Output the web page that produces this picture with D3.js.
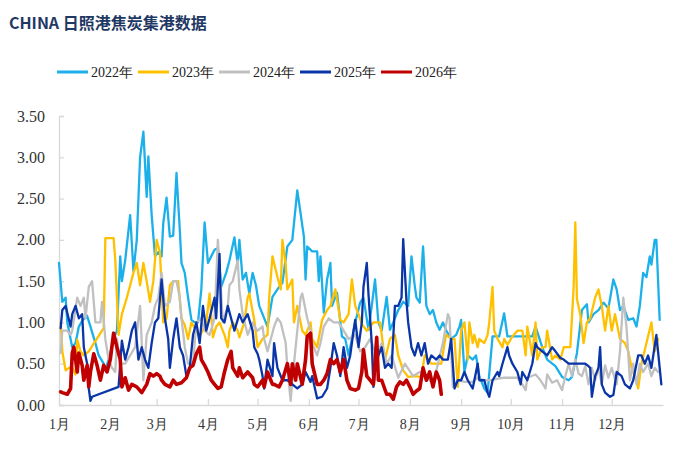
<!DOCTYPE html>
<html><head><meta charset="utf-8">
<script src="https://cdn.jsdelivr.net/npm/d3@7/dist/d3.min.js"></script>
<style>body{margin:0;background:#fff}svg{display:block}</style>
</head><body>
<svg id="c" width="684" height="453"></svg>
<script>
// ---- data (day of year, value) ----
const years = ["2022年","2023年","2024年","2025年","2026年"];
const monthLabels = ["1月","2月","3月","4月","5月","6月","7月","8月","9月","10月","11月","12月"];
const monthStartDays = [0,31,59,90,120,151,181,212,243,273,304,334];
const yTicks = [0,0.5,1,1.5,2,2.5,3,3.5];

const s2022 = [[0,1.72],[2,1.25],[4,1.30],[5,1.0],[8,0.70],[10,0.75],[12,0.95],[14,1.02],[17,1.08],[19,0.95],[22,0.75],[24,0.6],[27,0.5],[28,0.42],[30,0.55],[33,0.8],[35,0.9],[37,1.8],[38,1.5],[40,1.75],[43,2.3],[45,1.62],[47,2.0],[49,3.0],[51,3.31],[53,2.52],[54,3.01],[56,2.3],[58,1.8],[60,1.85],[62,1.8],[63,2.2],[65,2.51],[67,2.04],[69,2.05],[71,2.81],[73,2.12],[74,1.72],[76,1.6],[78,1.3],[80,1.03],[82,1.0],[84,1.0],[86,1.4],[88,2.21],[90,1.72],[92,1.8],[94,1.88],[96,1.9],[98,1.43],[101,1.6],[103,1.75],[106,2.03],[108,1.7],[109,2.0],[111,1.52],[113,1.6],[115,1.35],[117,1.6],[119,1.45],[121,1.2],[123,1.1],[126,0.95],[129,1.31],[132,1.4],[135,1.48],[138,1.92],[141,2.0],[144,2.6],[148,2.04],[149,1.52],[150,1.92],[153,1.86],[156,1.86],[157,1.5],[158,1.8],[160,1.12],[162,1.52],[164,1.72],[165,1.2],[168,1.36],[171,0.83],[173,0.8],[175,0.6],[177,0.8],[179,1.0],[182,1.24],[184,1.3],[187,0.91],[189,1.2],[191,1.52],[193,1.0],[195,0.9],[198,1.31],[200,0.91],[202,1.0],[205,1.15],[208,1.25],[211,1.2],[213,1.8],[215,1.44],[216,1.3],[218,1.24],[220,1.92],[222,1.2],[224,1.1],[226,1.15],[228,1.0],[230,0.91],[232,1.0],[234,0.9],[237,0.8],[240,0.85],[242,0.95],[243,1.03],[245,0.4],[247,0.6],[250,0.55],[252,0.6],[254,0.35],[257,0.2],[259,0.15],[262,0.83],[266,0.83],[269,1.11],[271,0.83],[276,0.83],[282,0.83],[286,0.83],[288,0.95],[292,0.7],[295,0.55],[300,0.47],[304,0.34],[308,0.3],[310,0.34],[313,0.63],[316,1.15],[319,1.22],[320,1.0],[323,1.1],[326,1.15],[329,1.24],[332,1.17],[335,1.52],[337,1.40],[339,1.15],[341,1.2],[344,1.03],[347,1.05],[349,0.95],[351,1.2],[353,1.6],[355,1.55],[357,1.8],[358,1.7],[360,2.0],[361,2.0],[363,1.03]];

const s2023 = [[1,1.0],[2,0.65],[4,0.42],[6,0.45],[8,0.45],[10,0.37],[11,0.79],[13,0.65],[15,0.6],[18,0.65],[27,0.93],[28,2.02],[33,2.02],[34,1.76],[36,0.85],[38,1.1],[41,1.3],[43,1.45],[45,1.6],[47,1.72],[49,1.45],[51,1.72],[53,1.5],[55,1.25],[57,1.5],[59,2.0],[61,1.85],[63,1.0],[65,1.05],[67,1.45],[69,1.5],[72,1.5],[74,1.05],[76,0.97],[78,0.8],[80,1.0],[83,0.9],[85,0.83],[88,0.95],[89,1.0],[91,1.35],[93,0.82],[95,0.95],[97,1.0],[100,0.85],[102,0.7],[103,0.9],[105,1.0],[108,0.9],[109,0.82],[112,1.0],[114,1.3],[115,1.35],[118,1.03],[120,0.7],[123,0.8],[126,0.85],[127,1.3],[129,1.8],[132,1.55],[134,1.4],[135,2.0],[137,1.7],[138,1.4],[141,1.52],[142,1.0],[144,1.2],[147,0.9],[149,0.85],[152,1.0],[153,0.8],[156,0.7],[159,1.03],[162,1.15],[164,1.2],[167,1.4],[170,1.03],[172,1.0],[175,1.1],[177,1.52],[179,1.2],[181,1.1],[183,0.98],[186,0.9],[190,1.0],[194,1.0],[197,0.55],[200,0.8],[203,0.85],[205,0.6],[208,0.42],[211,0.34],[215,0.35],[219,0.34],[221,0.6],[223,0.55],[225,0.5],[228,0.5],[231,0.5],[233,0.75],[234,0.85],[237,0.8],[239,0.8],[241,0.22],[243,0.9],[245,1.0],[247,0.55],[248,1.0],[250,0.75],[251,0.85],[253,0.7],[254,0.8],[257,0.75],[259,0.85],[260,1.0],[262,1.43],[263,0.9],[265,0.8],[268,0.7],[269,0.8],[271,0.73],[274,0.83],[277,0.9],[280,0.9],[282,0.6],[283,0.95],[286,0.6],[288,1.0],[289,0.55],[292,0.7],[294,0.7],[295,0.9],[298,0.55],[300,0.6],[303,0.55],[305,0.7],[307,0.7],[309,0.7],[311,1.43],[312,2.21],[313,1.28],[315,1.1],[317,0.75],[319,1.0],[321,1.05],[324,1.3],[326,1.4],[328,1.2],[330,0.9],[332,1.2],[334,0.9],[336,1.1],[339,0.8],[342,0.75],[344,0.65],[346,0.45],[348,0.35],[350,0.2],[352,0.5],[355,0.75],[358,1.0],[360,0.65],[362,0.8]];

const s2024 = [[1,0.63],[2,0.9],[5,0.9],[7,0.85],[8,0.9],[11,1.3],[13,1.2],[15,1.3],[16,1.05],[18,1.43],[20,1.5],[22,1.0],[25,1.0],[26,1.25],[28,0.8],[30,0.55],[32,0.45],[34,0.4],[35,0.8],[37,0.5],[40,0.5],[43,0.6],[46,0.7],[49,1.2],[51,0.3],[53,0.85],[56,1.0],[58,1.2],[60,1.3],[62,1.6],[64,1.2],[67,1.25],[69,1.5],[71,1.5],[73,1.3],[74,1.05],[76,0.7],[78,0.5],[81,0.5],[83,1.0],[86,1.05],[88,0.9],[91,0.85],[94,1.05],[96,2.0],[97,1.7],[99,1.0],[102,1.2],[103,1.45],[105,1.5],[108,1.75],[109,1.4],[111,1.1],[114,0.85],[117,1.0],[118,0.95],[120,0.9],[123,0.95],[124,0.8],[126,0.65],[128,0.8],[130,0.95],[132,1.05],[134,1.0],[137,0.75],[138,0.45],[140,0.05],[141,0.3],[144,0.9],[146,1.3],[147,1.35],[150,1.05],[152,0.9],[153,0.75],[156,0.6],[158,0.75],[160,0.95],[163,1.05],[166,1.0],[169,1.0],[172,0.9],[175,0.8],[179,0.85],[182,0.65],[185,0.7],[188,0.8],[192,0.6],[195,0.75],[198,0.5],[201,0.6],[205,0.33],[209,0.5],[214,0.35],[218,0.4],[222,0.35],[226,0.25],[229,0.5],[232,0.75],[235,1.1],[236,1.05],[238,0.22],[241,0.3],[245,0.28],[250,0.28],[253,0.33],[257,0.3],[262,0.3],[265,0.32],[269,0.33],[274,0.33],[277,0.33],[280,0.25],[282,0.18],[283,0.33],[288,0.37],[291,0.3],[294,0.2],[295,0.37],[298,0.27],[301,0.3],[304,0.18],[306,0.35],[308,0.5],[310,0.35],[312,0.55],[314,0.38],[316,0.35],[318,0.47],[320,0.25],[322,0.45],[324,0.3],[326,0.45],[328,0.25],[330,0.48],[332,0.33],[334,0.45],[337,0.25],[339,0.65],[341,1.3],[343,0.93],[345,0.3],[347,0.5],[349,0.25],[351,0.5],[353,0.4],[356,0.5],[358,0.35],[360,0.45],[362,0.4]];

const s2025 = [[1,0.93],[2,1.15],[4,1.2],[7,0.95],[8,1.1],[10,1.2],[12,1.05],[14,1.1],[15,0.7],[17,0.5],[18,0.2],[19,0.05],[20,0.1],[36,0.22],[38,0.78],[40,0.55],[42,0.7],[44,0.9],[46,1.0],[48,0.55],[50,0.7],[52,0.55],[54,0.45],[56,0.75],[58,1.0],[60,1.05],[62,1.52],[64,1.05],[66,0.8],[67,0.45],[69,0.8],[71,1.05],[73,0.7],[75,0.6],[77,0.35],[79,0.45],[81,0.85],[83,1.0],[85,0.75],[87,1.2],[89,0.9],[91,1.05],[94,1.3],[95,1.05],[97,1.83],[98,1.05],[100,1.0],[102,1.2],[104,1.05],[106,0.9],[109,1.1],[111,1.0],[114,1.1],[117,0.9],[118,0.7],[120,0.62],[121,0.55],[123,0.35],[124,0.2],[126,0.55],[129,0.35],[130,0.75],[132,0.45],[135,0.3],[138,0.3],[141,0.25],[144,0.2],[147,0.25],[149,0.4],[152,0.28],[153,0.35],[156,0.08],[159,0.1],[162,0.2],[164,0.45],[166,0.75],[168,0.6],[170,0.35],[172,0.7],[174,0.45],[176,0.6],[178,0.9],[179,1.03],[181,0.7],[183,1.0],[184,1.43],[186,1.72],[187,1.35],[189,0.75],[190,0.22],[191,0.4],[193,0.6],[195,0.7],[197,0.45],[199,0.5],[201,0.45],[203,1.2],[205,1.2],[207,1.3],[208,2.01],[210,1.25],[211,1.0],[213,0.7],[215,0.6],[217,0.75],[219,0.6],[221,0.75],[223,0.5],[225,0.6],[228,0.55],[230,0.6],[232,0.55],[235,0.55],[237,0.8],[239,0.2],[241,0.3],[243,0.3],[245,0.4],[247,0.3],[250,0.2],[253,0.5],[254,0.3],[257,0.3],[259,0.15],[260,0.1],[262,0.3],[265,0.4],[266,0.35],[268,0.5],[271,0.7],[272,0.6],[274,0.5],[277,0.4],[279,0.25],[280,0.4],[283,0.3],[286,0.5],[288,0.75],[289,0.7],[292,0.65],[295,0.6],[298,0.7],[300,0.65],[303,0.57],[305,0.55],[308,0.5],[312,0.5],[315,0.5],[318,0.5],[320,0.47],[321,0.45],[322,0.1],[324,0.35],[326,0.45],[327,0.7],[328,0.25],[330,0.15],[333,0.1],[335,0.12],[337,0.4],[340,0.35],[342,0.25],[345,0.2],[347,0.3],[350,0.6],[352,0.6],[354,0.5],[356,0.6],[358,0.45],[361,0.85],[364,0.25]];

const s2026 = [[1,0.16],[2,0.15],[5,0.13],[7,0.2],[8,0.63],[9,0.7],[11,0.4],[12,0.63],[14,0.48],[15,0.3],[17,0.48],[18,0.22],[19,0.4],[21,0.62],[23,0.48],[25,0.3],[27,0.48],[29,0.4],[31,0.55],[33,0.87],[35,0.7],[37,0.55],[38,0.22],[40,0.33],[42,0.18],[44,0.25],[47,0.22],[50,0.15],[53,0.25],[55,0.38],[57,0.35],[59,0.38],[61,0.35],[62,0.3],[64,0.25],[67,0.22],[69,0.3],[71,0.25],[74,0.27],[77,0.33],[79,0.45],[81,0.48],[83,0.62],[85,0.7],[86,0.55],[88,0.48],[90,0.4],[92,0.3],[94,0.25],[96,0.2],[98,0.22],[100,0.4],[102,0.55],[104,0.65],[105,0.45],[108,0.35],[109,0.45],[111,0.33],[114,0.4],[117,0.33],[118,0.25],[120,0.22],[123,0.3],[124,0.22],[126,0.4],[129,0.25],[130,0.25],[133,0.22],[135,0.3],[138,0.5],[140,0.25],[141,0.5],[143,0.3],[144,0.5],[147,0.25],[149,0.55],[150,0.83],[152,0.87],[153,0.5],[156,0.25],[158,0.25],[160,0.3],[162,0.38],[164,0.55],[166,0.5],[168,0.55],[170,0.4],[172,0.55],[174,0.3],[176,0.2],[179,0.18],[181,0.2],[183,0.4],[184,0.67],[186,0.35],[188,0.3],[190,0.25],[192,0.82],[193,0.3],[195,0.3],[198,0.13],[200,0.13],[202,0.07],[204,0.22],[206,0.28],[208,0.25],[210,0.3],[212,0.22],[214,0.13],[216,0.17],[218,0.2],[220,0.45],[222,0.3],[224,0.4],[226,0.22],[228,0.4],[230,0.3],[231,0.13]];

const seriesData = [s2022, s2023, s2024, s2025, s2026];
const colors = ["#1CB0EA", "#FFC000", "#C0C0C0", "#0A35A8", "#C00000"];
const widths = [2.3, 2.3, 2.3, 2.3, 3.6];

// ---- drawing ----
const svg = d3.select("#c");
const x = d3.scaleLinear().domain([0, 365]).range([59, 663]);
const y = d3.scaleLinear().domain([0, 3.5]).range([405, 116]);

svg.append("text").attr("x", 9).attr("y", 29)
  .attr("font-family", "'Noto Sans CJK SC', sans-serif").attr("font-weight", "bold")
  .attr("font-size", 16).attr("fill", "#1F3864").text("CHINA 日照港焦炭集港数据");

// legend
const leg = svg.append("g");
years.forEach((name, i) => {
  const gx = 57 + i * 81;
  leg.append("line").attr("x1", gx).attr("x2", gx + 31).attr("y1", 72).attr("y2", 72)
    .attr("stroke", colors[i]).attr("stroke-width", 3);
  leg.append("text").attr("x", gx + 34).attr("y", 77)
    .attr("font-family", "'Liberation Serif', 'Times New Roman', serif").attr("font-size", 14)
    .attr("fill", "#222").text(name);
});

// axes
const yAxis = d3.axisLeft(y).tickValues(yTicks).tickFormat(d3.format(".2f")).tickSize(-5).tickPadding(14);
const gy = svg.append("g").attr("transform", "translate(59,0)").call(yAxis);
gy.select(".domain").attr("stroke", "#D9D9D9").attr("stroke-width", 1.3);
gy.selectAll(".tick line").attr("stroke", "#D9D9D9").attr("stroke-width", 1.3);
gy.selectAll(".tick text").attr("font-family", "'Liberation Serif', 'Times New Roman', serif")
  .attr("font-size", 16).attr("fill", "#333");

const xAxis = d3.axisBottom(x).tickValues(monthStartDays)
  .tickFormat((d, i) => monthLabels[i]).tickSize(-6).tickPadding(14).tickSizeOuter(0);
const gx = svg.append("g").attr("transform", "translate(0,405)").call(xAxis);
gx.select(".domain").attr("stroke", "#D9D9D9").attr("stroke-width", 1.3);
gx.selectAll(".tick line").attr("stroke", "#D9D9D9").attr("stroke-width", 1.3);
gx.selectAll(".tick text").attr("font-family", "'Liberation Serif', 'Times New Roman', serif")
  .attr("font-size", 14).attr("fill", "#333");

// lines
const line = d3.line().x(d => x(d[0])).y(d => y(d[1]));
seriesData.forEach((s, i) => {
  svg.append("path").datum(s).attr("d", line).attr("fill", "none")
    .attr("stroke", colors[i]).attr("stroke-width", widths[i])
    .attr("stroke-linejoin", "round").attr("stroke-linecap", "round");
});
</script>
</body></html>
